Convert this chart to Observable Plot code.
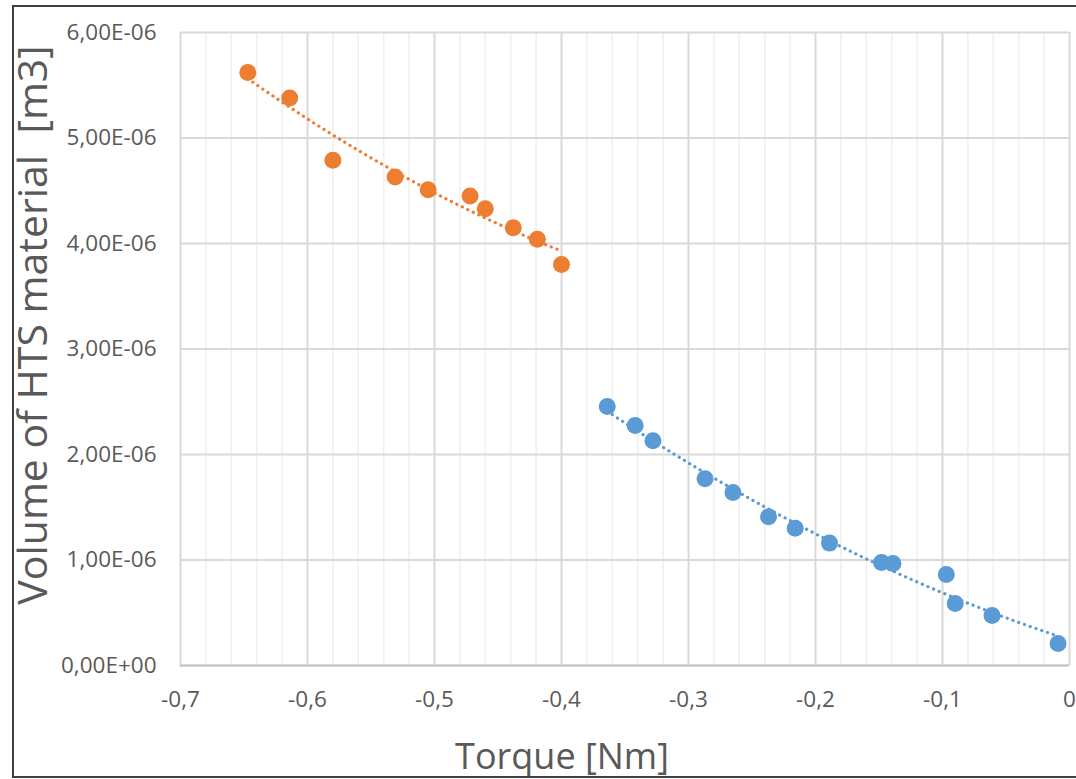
<!DOCTYPE html>
<html><head><meta charset="utf-8">
<script src="https://cdn.jsdelivr.net/npm/d3@7"></script>
<script src="https://cdn.jsdelivr.net/npm/@observablehq/plot@0.6"></script>
<style>
body{margin:0;background:#fff;}
#wrap{position:relative;width:1076px;height:779px;overflow:hidden;}
#border{position:absolute;left:12px;top:5px;width:1100px;height:773px;border:2px solid #404040;box-sizing:border-box;pointer-events:none;}
</style></head><body><div id="wrap"></div>
<script>
// Orange series: torque [Nm] and volume [m3]
const orangeTorque = [-0.647, -0.614, -0.580, -0.531, -0.505, -0.472, -0.460, -0.438, -0.419, -0.400];
const orangeVolume = [5.62e-6, 5.38e-6, 4.79e-6, 4.63e-6, 4.51e-6, 4.45e-6, 4.33e-6, 4.15e-6, 4.04e-6, 3.80e-6];
// Blue series
const blueTorque = [-0.364, -0.342, -0.328, -0.287, -0.265, -0.237, -0.216, -0.189, -0.148, -0.139, -0.097, -0.090, -0.061, -0.009];
const blueVolume = [2.455e-6, 2.275e-6, 2.13e-6, 1.77e-6, 1.64e-6, 1.41e-6, 1.30e-6, 1.16e-6, 0.976e-6, 0.967e-6, 0.863e-6, 0.588e-6, 0.474e-6, 0.209e-6];

const xTicks = [-0.7, -0.6, -0.5, -0.4, -0.3, -0.2, -0.1, 0];
const yTicks = [0, 1e-6, 2e-6, 3e-6, 4e-6, 5e-6, 6e-6];
const xMinor = d3.range(-70, 1, 2).filter(v => v % 10 !== 0).map(v => v / 100);

const yLabel = "Volume of HTS material  [m3]";
const xLabel = "Torque [Nm]";

const orange = orangeTorque.map((x, i) => ({x, y: orangeVolume[i]}));
const blue = blueTorque.map((x, i) => ({x, y: blueVolume[i]}));

// Quadratic least squares fit (trendlines)
function quadFit(pts) {
  const S = k => d3.sum(pts, p => p.x ** k);
  const T = k => d3.sum(pts, p => p.x ** k * p.y * 1e6);
  const A = [[S(0), S(1), S(2)], [S(1), S(2), S(3)], [S(2), S(3), S(4)]];
  const B = [T(0), T(1), T(2)];
  for (let i = 0; i < 3; i++) {
    for (let j = i + 1; j < 3; j++) {
      const f = A[j][i] / A[i][i];
      for (let k = i; k < 3; k++) A[j][k] -= f * A[i][k];
      B[j] -= f * B[i];
    }
  }
  const c = [0, 0, 0];
  for (let i = 2; i >= 0; i--) {
    let s = B[i];
    for (let k = i + 1; k < 3; k++) s -= A[i][k] * c[k];
    c[i] = s / A[i][i];
  }
  return x => (c[0] + c[1] * x + c[2] * x * x) * 1e-6;
}
const fo = quadFit(orange), fb = quadFit(blue);
const oExt = d3.extent(orangeTorque), bExt = d3.extent(blueTorque);
const orangeTrend = d3.range(0, 41).map(i => { const x = oExt[0] + (oExt[1] - oExt[0]) * i / 40; return {x, y: fo(x)}; });
const blueTrend = d3.range(0, 61).map(i => { const x = bExt[0] + (bExt[1] - bExt[0]) * i / 60; return {x, y: fb(x)}; });

const fmtX = v => v === 0 ? "0" : String(Math.round(v * 10) / 10).replace(".", ",");
const fmtY = v => v === 0 ? "0,00E+00" : (v * 1e6).toFixed(2).replace(".", ",") + "E-06";

const plot = Plot.plot({
  width: 1076, height: 779,
  marginLeft: 180, marginRight: 7, marginTop: 32, marginBottom: 114,
  style: {fontFamily: "'Open Sans', sans-serif", fontSize: "22px", color: "#595959", background: "transparent"},
  x: {domain: [-0.7, 0]},
  y: {domain: [0, 6e-6]},
  marks: [
    Plot.ruleX(xMinor, {stroke: "#efefef", strokeWidth: 1.5}),
    Plot.ruleX(xTicks, {stroke: "#d9d9d9", strokeWidth: 2}),
    Plot.ruleY(yTicks, {stroke: "#d9d9d9", strokeWidth: 2}),
    Plot.ruleY([0], {stroke: "#c4c4c4", strokeWidth: 2}),
    Plot.axisX({ticks: xTicks, tickFormat: fmtX, tickSize: 0, tickPadding: 26, label: null, fontSize: 22.5, fill: "#595959"}),
    Plot.axisY({ticks: yTicks, tickFormat: fmtY, tickSize: 0, tickPadding: 24, label: null, fontSize: 22.5, fill: "#595959"}),
    Plot.line(orangeTrend, {x: "x", y: "y", stroke: "#ED7D31", strokeWidth: 3.2, strokeDasharray: "0.1,6", strokeLinecap: "round"}),
    Plot.line(blueTrend, {x: "x", y: "y", stroke: "#5B9BD5", strokeWidth: 3.2, strokeDasharray: "0.1,6", strokeLinecap: "round"}),
    Plot.dot(orange, {x: "x", y: "y", r: 8.5, fill: "#ED7D31"}),
    Plot.dot(blue, {x: "x", y: "y", r: 8.5, fill: "#5B9BD5"}),
    Plot.text([yLabel], {text: d => d, frameAnchor: "left", rotate: -90, dx: -147, dy: -24, fontSize: 41, fill: "#595959", textAnchor: "middle", lineAnchor: "middle"}),
    Plot.text([xLabel], {text: d => d, frameAnchor: "bottom", dx: -63, dy: 92, fontSize: 36, fill: "#595959", textAnchor: "middle", lineAnchor: "middle"})
  ]
});
const wrap = document.getElementById("wrap");
wrap.appendChild(plot);
const border = document.createElement("div");
border.id = "border";
wrap.appendChild(border);
</script>
</body></html>
